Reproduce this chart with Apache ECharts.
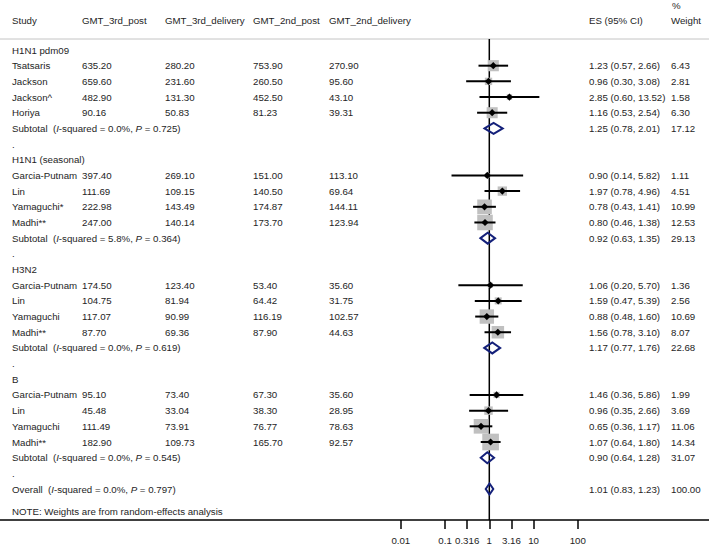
<!DOCTYPE html>
<html><head><meta charset="utf-8">
<script src="https://cdn.jsdelivr.net/npm/echarts@6/dist/echarts.min.js"></script>
<style>html,body{margin:0;padding:0;background:#fff}#c{width:709px;height:544px}</style>
</head><body><div id="c"></div>
<script>
// ---------------- data ----------------
const groupNames = ['H1N1 pdm09', 'H1N1 (seasonal)', 'H3N2', 'B'];
const studyNames = ['Tsatsaris', 'Jackson', 'Jackson^', 'Horiya',
  'Garcia-Putnam', 'Lin', 'Yamaguchi*', 'Madhi**',
  'Garcia-Putnam', 'Lin', 'Yamaguchi', 'Madhi**',
  'Garcia-Putnam', 'Lin', 'Yamaguchi', 'Madhi**'];
const studyGroup = [0,0,0,0, 1,1,1,1, 2,2,2,2, 3,3,3,3];
const gmt3rdPost = [635.20,659.60,482.90,90.16, 397.40,111.69,222.98,247.00, 174.50,104.75,117.07,87.70, 95.10,45.48,111.49,182.90];
const gmt3rdDelivery = [280.20,231.60,131.30,50.83, 269.10,109.15,143.49,140.14, 123.40,81.94,90.99,69.36, 73.40,33.04,73.91,109.73];
const gmt2ndPost = [753.90,260.50,452.50,81.23, 151.00,140.50,174.87,173.70, 53.40,64.42,116.19,87.90, 67.30,38.30,76.77,165.70];
const gmt2ndDelivery = [270.90,95.60,43.10,39.31, 113.10,69.64,144.11,123.94, 35.60,31.75,102.57,44.63, 35.60,28.95,78.63,92.57];
const esValue = [1.23,0.96,2.85,1.16, 0.90,1.97,0.78,0.80, 1.06,1.59,0.88,1.56, 1.46,0.96,0.65,1.07];
const ciLower = [0.57,0.30,0.60,0.53, 0.14,0.78,0.43,0.46, 0.20,0.47,0.48,0.78, 0.36,0.35,0.36,0.64];
const ciUpper = [2.66,3.08,13.52,2.54, 5.82,4.96,1.41,1.38, 5.70,5.39,1.60,3.10, 5.86,2.66,1.17,1.80];
const weightPct = [6.43,2.81,1.58,6.30, 1.11,4.51,10.99,12.53, 1.36,2.56,10.69,8.07, 1.99,3.69,11.06,14.34];
const subtotalES = [1.25, 0.92, 1.17, 0.90];
const subtotalLower = [0.78, 0.63, 0.77, 0.64];
const subtotalUpper = [2.01, 1.35, 1.76, 1.28];
const subtotalWeight = [17.12, 29.13, 22.68, 31.07];
const subtotalI2 = ['0.0%', '5.8%', '0.0%', '0.0%'];
const subtotalP = ['0.725', '0.364', '0.619', '0.545'];
const overallES = 1.01, overallLower = 0.83, overallUpper = 1.23, overallWeight = 100.00;
const overallI2 = '0.0%', overallP = '0.797';
const tickValues = [0.01, 0.1, 0.316, 1, 3.16, 10, 100];
const tickLabels = ['0.01', '0.1', '0.316', '1', '3.16', '10', '100'];
const headerLabels = ['Study', 'GMT_3rd_post', 'GMT_3rd_delivery', 'GMT_2nd_post', 'GMT_2nd_delivery'];
const esHeader = 'ES (95% CI)';
const weightHeader = ['%', 'Weight'];
const noteText = 'NOTE: Weights are from random-effects analysis';

// ---------------- layout ----------------
const W = 709, H = 544;
const ROW0_Y = 50, ROW_H = 15.68, AXIS_Y = 520;
const X_ONE = 489.3, DECADE = 44.25;
const XMIN = -X_ONE / DECADE, XMAX = (W - X_ONE) / DECADE;
const YMIN = -ROW0_Y / ROW_H, YMAX = (AXIS_Y - ROW0_Y) / ROW_H;
const COL_X = [12, 82, 165, 253, 329];
const ES_X = 589, WT_X = 671;
const HEADER_ROW = (20 - ROW0_Y) / ROW_H;
const PCT_ROW = (5 - ROW0_Y) / ROW_H;
const HLINE_ROW = (39 - ROW0_Y) / ROW_H;
const FONT = '"Liberation Sans", Arial, sans-serif';
const FS = 9.7;
const TXT = '#1e1e1e';
const BOX_K = 4.4;
const NAVY = '#14207a';

const lg = Math.log10;
const f2 = v => v.toFixed(2);
const ciText = (e, l, h) => `${f2(e)} (${f2(l)}, ${f2(h)})`;

// build rows
const textRows = [];
const studyRows = [];
const subRows = [];
let r = 0;
groupNames.forEach((g, gi) => {
  textRows.push({row: r, cells: [[COL_X[0], g]]});
  r++;
  studyGroup.forEach((sg, i) => {
    if (sg !== gi) return;
    textRows.push({row: r, cells: [
      [COL_X[0], studyNames[i]], [COL_X[1], f2(gmt3rdPost[i])], [COL_X[2], f2(gmt3rdDelivery[i])],
      [COL_X[3], f2(gmt2ndPost[i])], [COL_X[4], f2(gmt2ndDelivery[i])],
      [ES_X, ciText(esValue[i], ciLower[i], ciUpper[i])], [WT_X, f2(weightPct[i])]
    ]});
    studyRows.push([lg(esValue[i]), lg(ciLower[i]), lg(ciUpper[i]), r, weightPct[i]]);
    r++;
  });
  textRows.push({row: r, cells: [
    [COL_X[0], `Subtotal  ({i|I}-squared = ${subtotalI2[gi]}, {i|P} = ${subtotalP[gi]})`, true],
    [ES_X, ciText(subtotalES[gi], subtotalLower[gi], subtotalUpper[gi])], [WT_X, f2(subtotalWeight[gi])]
  ]});
  subRows.push([lg(subtotalES[gi]), lg(subtotalLower[gi]), lg(subtotalUpper[gi]), r]);
  r++;
  textRows.push({row: r, cells: [[COL_X[0], '.']]});
  r++;
});
textRows.push({row: r, cells: [
  [COL_X[0], `Overall  ({i|I}-squared = ${overallI2}, {i|P} = ${overallP})`, true],
  [ES_X, ciText(overallES, overallLower, overallUpper)], [WT_X, f2(overallWeight)]
]});
subRows.push([lg(overallES), lg(overallLower), lg(overallUpper), r]);
textRows.push({row: r + 1.45, cells: [[COL_X[0], noteText]]});
textRows.push({row: HEADER_ROW, cells: headerLabels.map((h, i) => [COL_X[i], h])
  .concat([[ES_X, esHeader], [WT_X, weightHeader[1]]])});
textRows.push({row: PCT_ROW, cells: [[WT_X + 1, weightHeader[0]]]});

function mkText(x, y, s, rich) {
  const st = {text: s, x: x, y: y, fill: TXT, fontSize: FS, fontFamily: FONT, align: 'left', verticalAlign: 'middle'};
  if (rich) st.rich = {i: {fontStyle: 'italic', fontSize: FS, fontFamily: FONT, fill: TXT}};
  return {type: 'text', style: st};
}

const chart = echarts.init(document.getElementById('c'), null, {renderer: 'svg', width: W, height: H});
chart.setOption({
  animation: false,
  backgroundColor: '#fff',
  grid: {left: 0, right: 0, top: 0, bottom: H - AXIS_Y, containLabel: false, outerBoundsMode: 'none'},
  xAxis: {
    type: 'value', min: XMIN, max: XMAX, position: 'bottom',
    axisLine: {show: true, onZero: false, lineStyle: {color: '#000', width: 1.5}},
    axisTick: {show: true, customValues: tickValues.map(lg), length: 9, lineStyle: {color: '#000', width: 1.5}},
    axisLabel: {show: true, customValues: tickValues.map(lg), margin: 15, fontSize: FS, fontFamily: FONT, color: TXT,
      formatter: v => {
        let best = 0;
        tickValues.forEach((t, i) => { if (Math.abs(lg(t) - v) < Math.abs(lg(tickValues[best]) - v)) best = i; });
        return tickLabels[best];
      }},
    splitLine: {show: false}
  },
  yAxis: {type: 'value', inverse: true, min: YMIN, max: YMAX, show: false, splitLine: {show: false}},
  series: [
    {
      type: 'line', silent: true, symbol: 'none', z: 1,
      data: [[XMIN, HLINE_ROW], [XMAX, HLINE_ROW]],
      lineStyle: {color: '#c4c4c4', width: 1}
    },
    {
      type: 'line', silent: true, symbol: 'none', z: 1,
      data: [[0, HLINE_ROW], [0, YMAX]],
      lineStyle: {color: '#000', width: 1.5}
    },
    {
      type: 'custom', silent: true, z: 3,
      data: studyRows,
      renderItem: (params, api) => {
        const row = api.value(3);
        const c = api.coord([api.value(0), row]);
        const l = api.coord([api.value(1), row]);
        const h = api.coord([api.value(2), row]);
        const s = BOX_K * Math.sqrt(api.value(4));
        const d = 3.6;
        return {type: 'group', children: [
          {type: 'rect', shape: {x: c[0] - s / 2, y: c[1] - s / 2, width: s, height: s}, style: {fill: '#c0c0c0'}},
          {type: 'line', shape: {x1: l[0], y1: c[1], x2: h[0], y2: c[1]}, style: {stroke: '#000', lineWidth: 2}},
          {type: 'polygon', shape: {points: [[c[0] - d, c[1]], [c[0], c[1] - d], [c[0] + d, c[1]], [c[0], c[1] + d]]}, style: {fill: '#000'}}
        ]};
      }
    },
    {
      type: 'custom', silent: true, z: 4,
      data: subRows,
      renderItem: (params, api) => {
        const row = api.value(3);
        const c = api.coord([api.value(0), row]);
        const l = api.coord([api.value(1), row]);
        const h = api.coord([api.value(2), row]);
        const hh = 5.5;
        return {type: 'polygon', shape: {points: [[l[0], c[1]], [c[0], c[1] - hh], [h[0], c[1]], [c[0], c[1] + hh]]},
          style: {fill: 'none', stroke: NAVY, lineWidth: 2}};
      }
    },
    {
      type: 'custom', silent: true, z: 5,
      data: textRows.map(t => [0, t.row]),
      renderItem: (params, api) => {
        const t = textRows[params.dataIndex];
        const y = api.coord([0, t.row])[1];
        return {type: 'group', children: t.cells.map(c => mkText(c[0], y, c[1], c[2]))};
      }
    }
  ]
});
</script>
</body></html>
